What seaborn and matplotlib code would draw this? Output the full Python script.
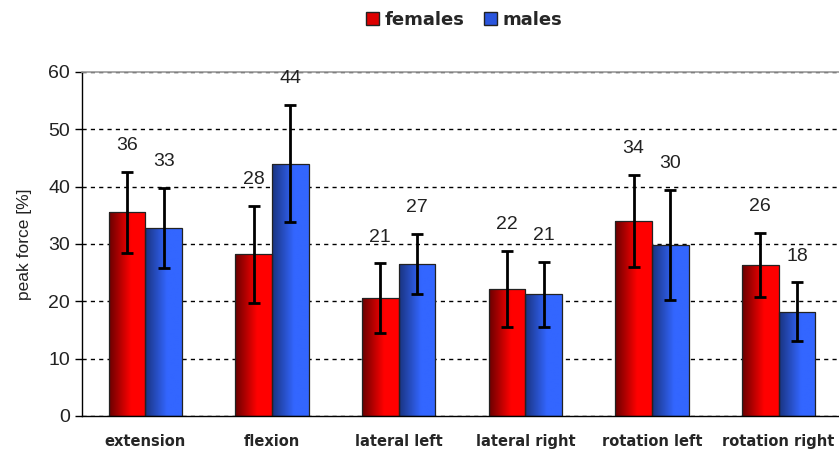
import numpy as np
import pandas as pd
import seaborn as sns
import matplotlib.pyplot as plt
from matplotlib.colors import to_rgb
from matplotlib.patches import Patch

categories = ["extension", "flexion", "lateral left", "lateral right",
              "rotation left", "rotation right"]
female_mean = [35.5, 28.2, 20.5, 22.2, 34.0, 26.3]
female_sd = [7.0, 8.5, 6.1, 6.6, 8.0, 5.6]
male_mean = [32.8, 44.0, 26.5, 21.2, 29.8, 18.2]
male_sd = [7.0, 10.2, 5.3, 5.6, 9.6, 5.1]
female_labels = [36, 28, 21, 22, 34, 26]
male_labels = [33, 44, 27, 21, 30, 18]

df = pd.DataFrame({
    "category": categories * 2,
    "sex": ["females"] * 6 + ["males"] * 6,
    "force": female_mean + male_mean,
})

sns.set_style("white")
plt.rcParams["font.family"] = ["Liberation Sans", "DejaVu Sans"]

fig = plt.figure(figsize=(8.39, 4.53), dpi=100)
ax = fig.add_axes([82 / 839, 1 - 416 / 453, 760 / 839, (416 - 72) / 453])

sns.barplot(data=df, x="category", y="force", hue="sex", order=categories,
            hue_order=["females", "males"], palette=["#ff0000", "#3366ff"],
            width=0.58, gap=0, errorbar=None, legend=False, ax=ax,
            edgecolor="#222222", linewidth=0.9)

grads = {"females": ("#6a0000", "#ff0000"), "males": ("#1a3480", "#3366ff")}
bars = list(ax.patches)
sexes = ["females"] * 6 + ["males"] * 6
means = female_mean + male_mean
sds = female_sd + male_sd
labels = female_labels + male_labels

for bar, sex, m, s, lab in zip(bars, sexes, means, sds, labels):
    x0, w = bar.get_x(), bar.get_width()
    h = bar.get_height()
    dark, bright = np.array(to_rgb(grads[sex][0])), np.array(to_rgb(grads[sex][1]))
    t = np.clip(np.linspace(0, 1, 64) / 0.6, 0, 1)
    img = dark[None, :] * (1 - t[:, None]) + bright[None, :] * t[:, None]
    im = ax.imshow(img[None, :, :], extent=[x0, x0 + w, 0, h], aspect="auto",
                   zorder=1.5, interpolation="bilinear")
    im.set_clip_path(bar)
    bar.set_facecolor("none")
    bar.set_zorder(2)
    xc = x0 + w / 2
    ax.errorbar(xc, m, yerr=s, fmt="none", ecolor="black", elinewidth=2,
                capsize=4, capthick=2, zorder=3)
    ax.text(xc, m + s + 4.6, str(lab), ha="center", va="center",
            fontsize=14, color="#222222")

ax.set_xlim(-0.5, 5.5)
ax.set_ylim(0, 60)
ax.set_yticks(range(0, 61, 10))
ax.set_axisbelow(True)
ax.yaxis.grid(True, linestyle=(0, (3, 3)), color="black", linewidth=1)
ax.set_ylabel("peak force [%]", fontsize=12.5, color="#222222", labelpad=12)
ax.set_xlabel("")

ax.set_xticks(range(6))
ax.set_xticklabels(categories, fontweight="bold", fontsize=10.5,
                   family="DejaVu Sans")
ax.set_xticks(np.arange(-0.5, 6, 1), minor=True)
ax.tick_params(axis="x", which="major", length=0, pad=13)
ax.tick_params(axis="x", which="minor", length=5, direction="out",
               color="black", width=1)
ax.tick_params(axis="y", length=5, direction="out", color="black", width=1,
               labelsize=14, labelcolor="#222222", left=True)

for side in ["left", "bottom"]:
    ax.spines[side].set_color("black")
    ax.spines[side].set_linewidth(1)
ax.spines["top"].set_color("#999999")
ax.spines["top"].set_linewidth(1.2)
ax.spines["right"].set_visible(False)

handles = [Patch(facecolor="#dd0000", edgecolor="#222222", label="females"),
           Patch(facecolor="#2a55dd", edgecolor="#222222", label="males")]
fig.legend(handles=handles, loc="center", bbox_to_anchor=(0.553, 1 - 20 / 453),
           ncol=2, frameon=False, handlelength=0.7, handleheight=0.7,
           handletextpad=0.3, columnspacing=1.1,
           prop={"family": "DejaVu Sans", "weight": "bold", "size": 13})

fig.savefig("out.png", dpi=100)
